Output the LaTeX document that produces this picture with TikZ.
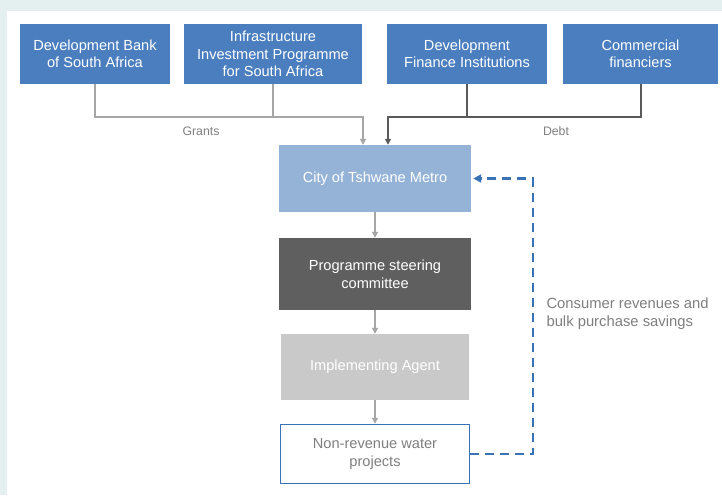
\documentclass[tikz,border=0pt]{standalone}
\usepackage{fontspec}
\setmainfont{Liberation Sans}
\usetikzlibrary{arrows.meta,calc}
\definecolor{bgteal}{HTML}{E4EFEF}
\definecolor{topblue}{HTML}{4A7EBF}
\definecolor{cityblue}{HTML}{95B3D7}
\definecolor{steergray}{HTML}{5F5F5F}
\definecolor{implgray}{HTML}{C9C9C9}
\definecolor{linegray}{HTML}{A6A6A6}
\definecolor{darkline}{HTML}{5A5A5A}
\definecolor{dashblue}{HTML}{3A73B5}
\definecolor{txtgray}{HTML}{7F7F7F}
\begin{document}
\begin{tikzpicture}[x=1pt,y=-1pt,
  topbox/.style={fill=topblue,text=white,align=center,minimum height=60pt,inner sep=0pt,font=\fontsize{14.6}{17.5}\selectfont},
  midbox/.style={align=center,minimum height=66pt,minimum width=192pt,inner sep=0pt,font=\fontsize{14.6}{18}\selectfont},
  gline/.style={draw=linegray,line width=1.6pt},
  dline/.style={draw=darkline,line width=2pt},
  tipg/.style={-{Triangle[length=6pt,width=6pt]}},
  dashline/.style={draw=dashblue,line width=2.2pt,dash pattern=on 9pt off 6pt},
  lbl/.style={text=txtgray,font=\fontsize{12.3}{14}\selectfont}
]
\useasboundingbox (0,0) rectangle (722,495);
\fill[bgteal] (0,0) rectangle (722,495);
\fill[white] (7,11) rectangle (722,495);

\node[topbox,minimum width=150pt] (b1) at (95,54) {Development Bank\\of South Africa};
\node[topbox,minimum width=178pt] (b2) at (273,54) {Infrastructure\\Investment Programme\\for South Africa};
\node[topbox,minimum width=160pt] (b3) at (467,54) {Development\\Finance Institutions};
\node[topbox,minimum width=155pt] (b4) at (640.5,54) {Commercial\\financiers};

\node[midbox,fill=cityblue,text=white,minimum height=67pt] (city) at (375,178.5) {City of Tshwane Metro};
\node[midbox,fill=steergray,text=white,minimum height=72pt] (steer) at (375,274) {Programme steering\\committee};
\node[midbox,fill=implgray,text=white,minimum width=188pt] (impl) at (375,367) {Implementing Agent};
\node[midbox,draw=dashblue,line width=1.5pt,text=txtgray,minimum width=189pt,minimum height=59pt] (nrw) at (375,454) {Non-revenue water\\projects};

\coordinate (gj) at (363,117);
\coordinate (dj) at (388,117);
\draw[gline] (b2.south) -- (b2.south |- gj);
\draw[gline,tipg] (b1.south) |- (gj) -- (gj |- city.north);
\draw[dline] (b3.south) -- (b3.south |- dj);
\draw[dline,tipg] (b4.south) |- (dj) -- (dj |- city.north);

\node[lbl] (grants) at (201,131) {Grants};
\node[lbl] (debt) at (556,131) {Debt};

\draw[gline,tipg] (city.south) -- (steer.north);
\draw[gline,tipg] (steer.south) -- (impl.north);
\draw[gline,tipg] (impl.south) -- (nrw.north);

\coordinate (dcor) at (533,178.5);
\draw[dashline,-{Triangle[length=8pt,width=8pt]}] (nrw.east) -| (dcor) -- ([xshift=2pt]city.east);

\node[lbl,anchor=west,align=left,font=\fontsize{14.8}{18}\selectfont] (cons) at (543,314) {Consumer revenues and\\bulk purchase savings};
\end{tikzpicture}
\end{document}
